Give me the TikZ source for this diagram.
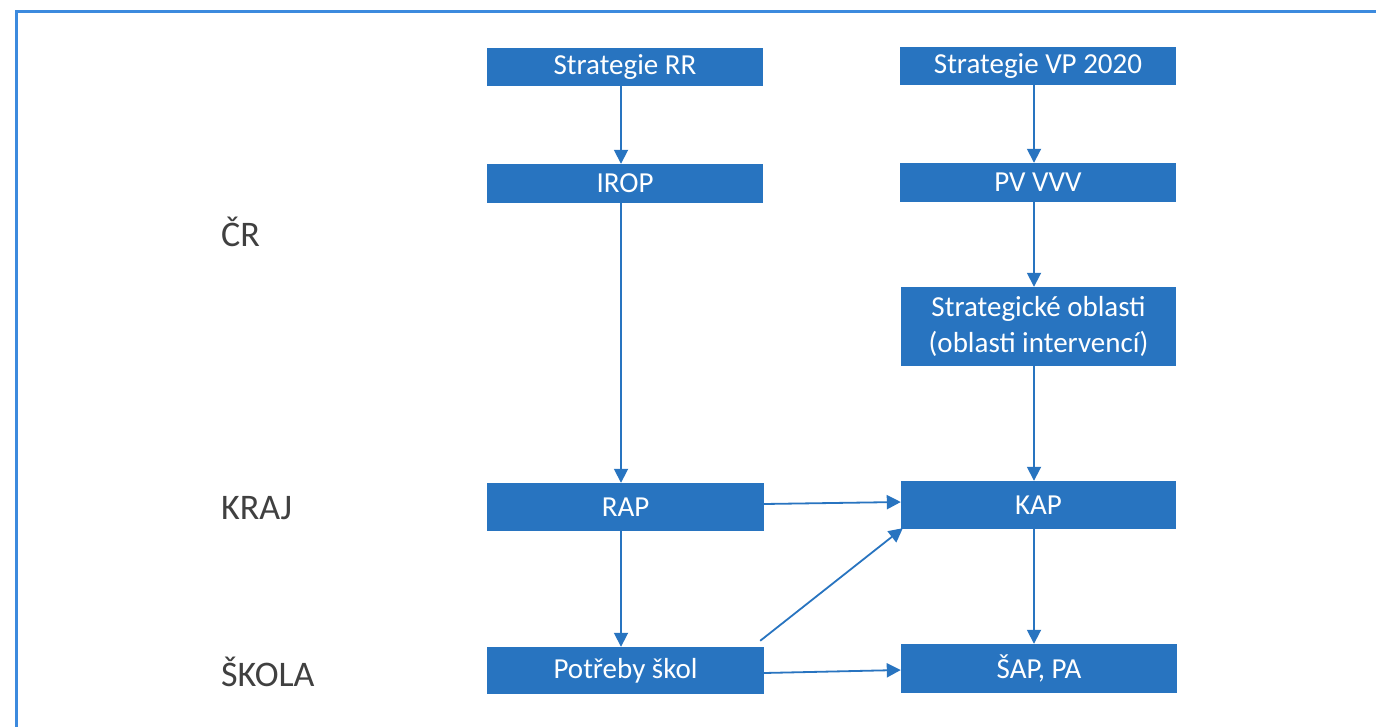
\documentclass[tikz,border=0pt]{standalone}
\usepackage{fontspec}
\setmainfont{Carlito}
\usetikzlibrary{arrows.meta}
\definecolor{boxblue}{RGB}{40,116,192}
\definecolor{frameblue}{RGB}{60,138,222}
\definecolor{labelgray}{RGB}{64,64,64}
\tikzset{
  box/.style={draw=none, fill=boxblue, text=white, minimum width=276pt, inner sep=0pt, align=center,
    font=\fontsize{29}{36}\selectfont},
  lvl/.style={text=labelgray, anchor=west, inner sep=0pt, font=\fontsize{36}{40}\selectfont},
  arr/.style={draw=boxblue, line width=1.8pt, -{Triangle[length=14pt,width=14pt]}}
}
\begin{document}
\begin{tikzpicture}[x=1pt,y=-1pt]
\useasboundingbox (0,0) rectangle (1376,727);
\fill[white] (0,0) rectangle (1376,727);
\draw[framecol/.style={}, draw=frameblue, line width=3pt] (16,12) rectangle (1390,740);
% left column
\node[box, minimum height=38pt] (rr) at (625,67) {Strategie RR};
\node[box, minimum height=39pt] (irop) at (625,183.5) {IROP};
\node[box, minimum height=48pt, minimum width=277pt] (rap) at (625.5,507) {RAP};
\node[box, minimum height=47pt, minimum width=277pt] (pot) at (625.5,670.5) {Potřeby škol};
% right column
\node[box, minimum height=38pt] (vp) at (1038,66) {Strategie VP 2020};
\node[box, minimum height=39pt] (pv) at (1038,182.5) {PV VVV};
\node[box, minimum height=79pt, minimum width=275pt] (so) at (1038.5,326.5) {Strategické oblasti\\(oblasti intervencí)};
\node[box, minimum height=48pt, minimum width=275pt] (kap) at (1038.5,505) {KAP};
\node[box, minimum height=49pt, minimum width=276pt] (sap) at (1039,668.5) {ŠAP, PA};
% level labels
\node[lvl] (cr) at (221,232) {ČR};
\node[lvl] (kraj) at (221,508) {KRAJ};
\node[lvl] (skola) at (221,672) {ŠKOLA};
% arrows
\draw[arr] (rr.south -| 621,0) -- (irop.north -| 621,0);
\draw[arr] (irop.south -| 621,0) -- (rap.north -| 621,0);
\draw[arr] (rap.south -| 621,0) -- (pot.north -| 621,0);
\draw[arr] (vp.south -| 1034,0) -- (pv.north -| 1034,0);
\draw[arr] (pv.south -| 1034,0) -- (so.north -| 1034,0);
\draw[arr] (so.south -| 1034,0) -- (kap.north -| 1034,0);
\draw[arr] (kap.south -| 1034,0) -- (sap.north -| 1034,0);
\draw[arr] (rap.east |- 0,504) -- (kap.west |- 0,502);
\draw[arr] (pot.east |- 0,673) -- (sap.west |- 0,670);
\draw[arr] ([shift={(-4,-6)}]pot.north east) -- ([shift={(2,-1)}]kap.south west);
\end{tikzpicture}
\end{document}
